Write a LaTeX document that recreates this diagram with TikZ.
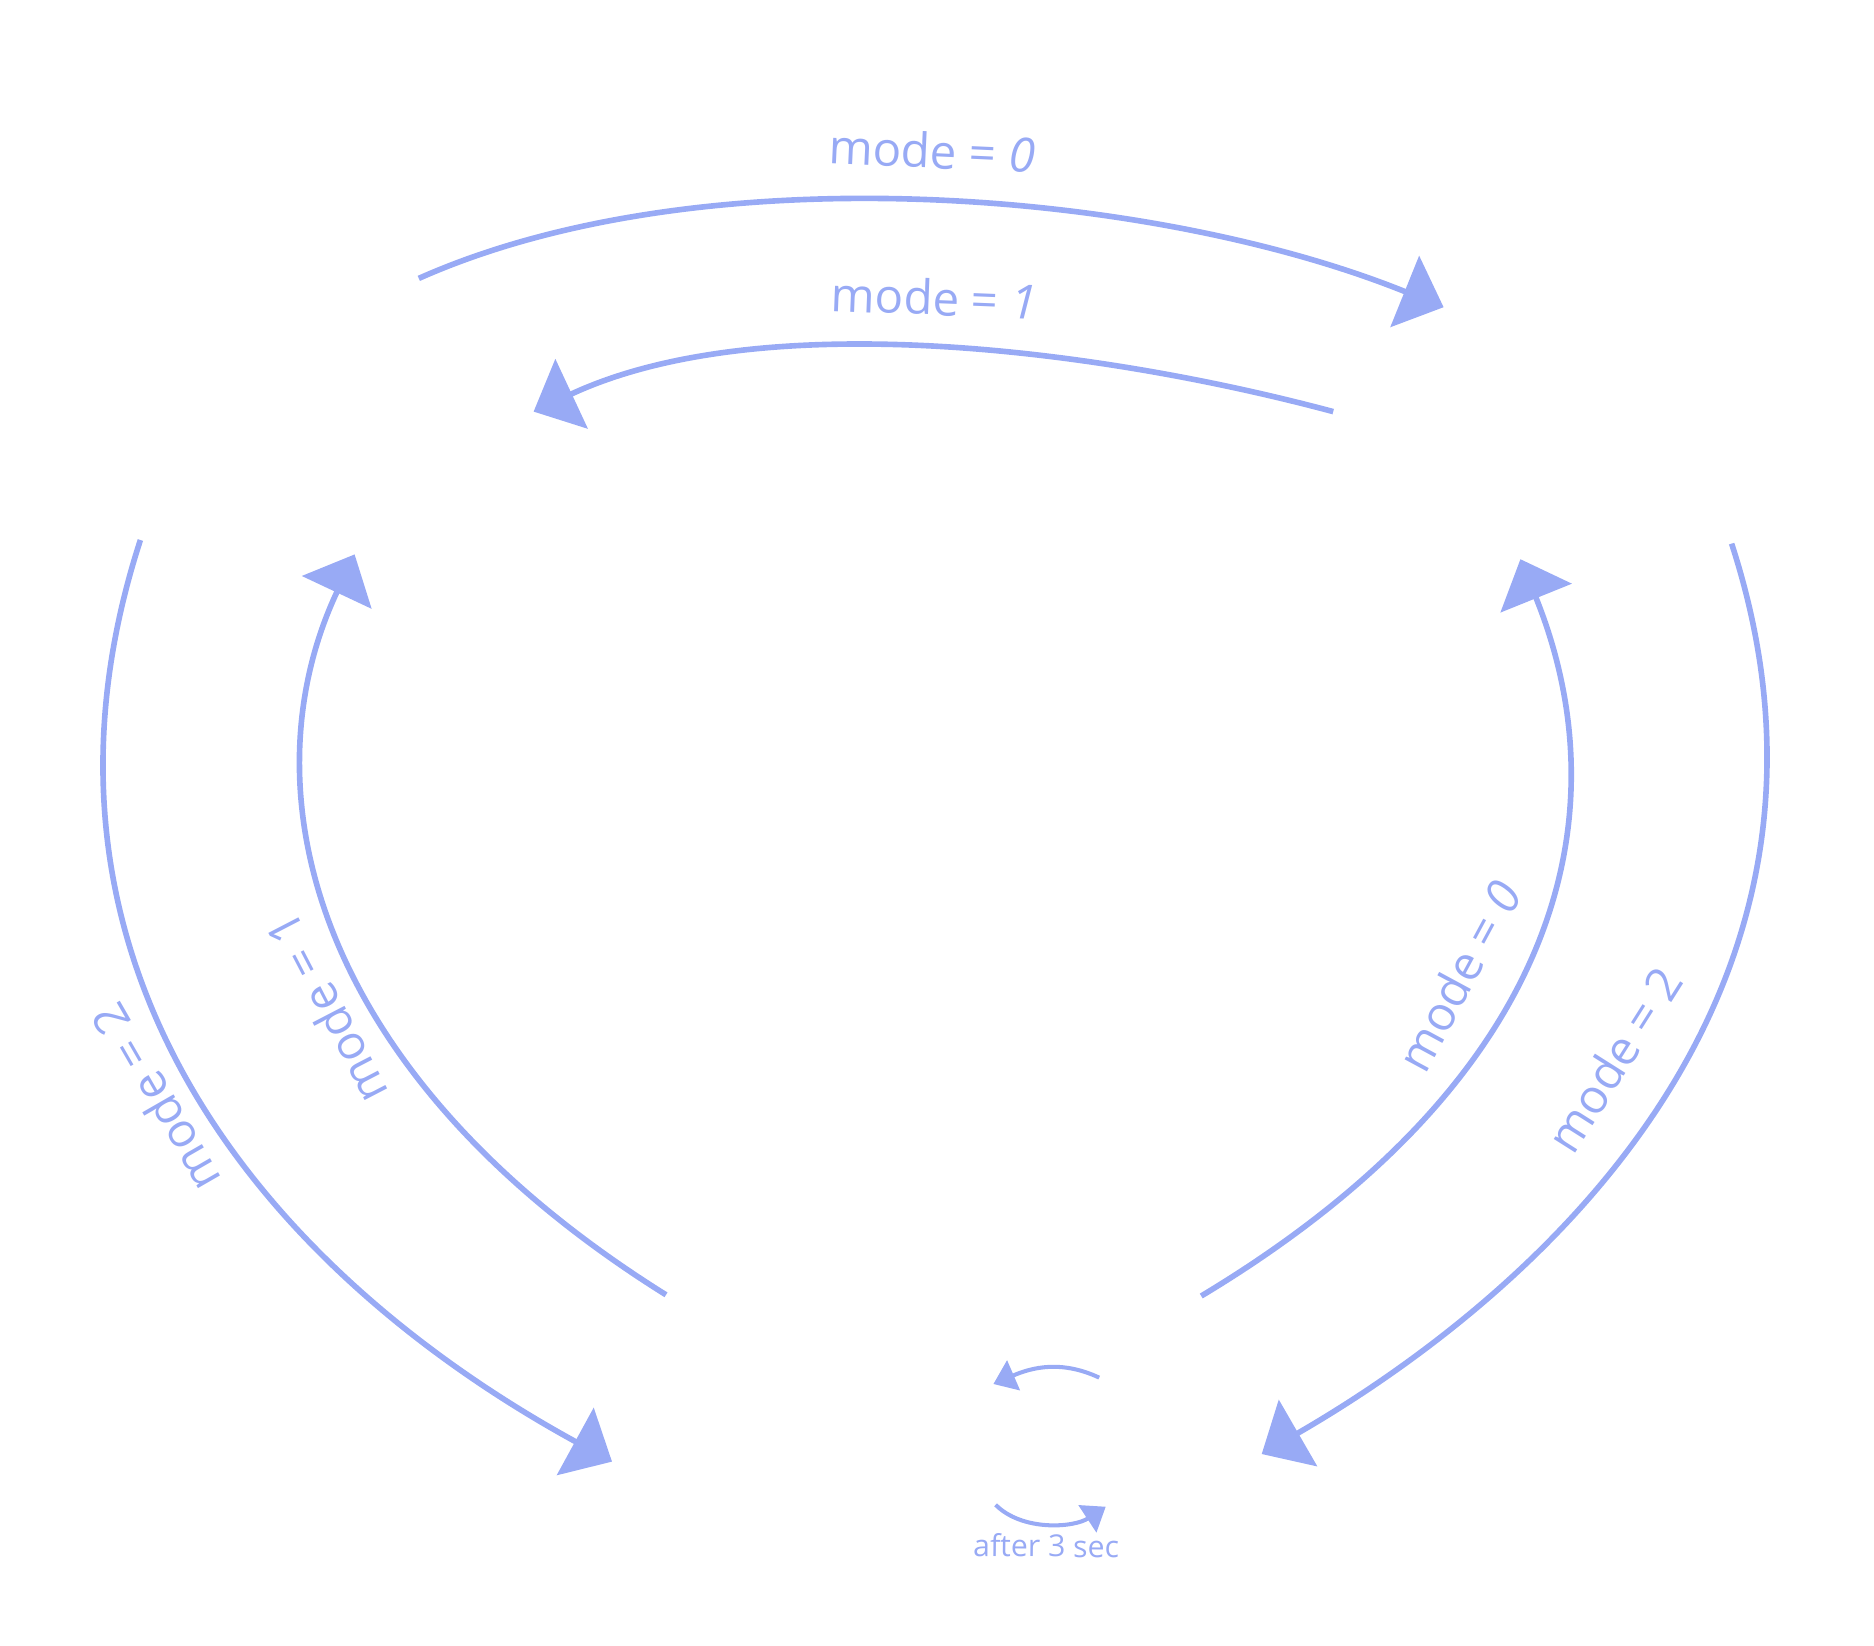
\documentclass[tikz,border=0pt]{standalone}
\usepackage{fontspec}
\setmainfont{Open Sans}
\usetikzlibrary{arrows.meta}
\definecolor{edgeblue}{RGB}{152,170,245}

\begin{document}
\begin{tikzpicture}[
    trans/.style={draw=edgeblue, line width=1.6pt, -{Triangle[length=0.42cm, width=0.76cm]}},
    wait/.style={draw=edgeblue, line width=1.15pt, -{Triangle[length=0.22cm, width=0.32cm]}},
    lbl/.style={text=edgeblue, font=\fontsize{13.5}{16}\selectfont, inner sep=0pt},
    small/.style={text=edgeblue, font=\fontsize{8.6}{10}\selectfont, inner sep=0pt}
  ]
  \useasboundingbox (0,0) rectangle (18.74,-16.45);
  % ports of state 1 (top left)
  \coordinate (s1-top) at (4.188,-2.784);
  \coordinate (s1-mid) at (5.336,-4.116);
  \coordinate (s1-out) at (1.404,-5.4);
  \coordinate (s1-in) at (3.546,-5.544);
  % ports of state 0 (top right)
  \coordinate (s0-top) at (14.436,-3.072);
  \coordinate (s0-mid) at (13.332,-4.116);
  \coordinate (s0-out) at (17.316,-5.436);
  \coordinate (s0-in) at (15.204,-5.592);
  % ports of state 2 (bottom)
  \coordinate (s2-left) at (6.12,-14.616);
  \coordinate (s2-lin) at (6.66,-12.948);
  \coordinate (s2-rin) at (12.012,-12.96);
  \coordinate (s2-right) at (12.617,-14.54);
  \coordinate (s2-ua) at (10.992,-13.776);
  \coordinate (s2-ub) at (9.934,-13.84);
  \coordinate (s2-la) at (9.956,-15.048);
  \coordinate (s2-lb) at (11.057,-15.067);
  % top pair
  \draw[trans] (s1-top) .. controls +(24:3.12) and +(158:3.12) .. (s0-top)
    node[lbl, pos=0.5, sloped, above=0.3cm] {mode = \textit{0}};
  \draw[trans] (s0-mid) .. controls +(165:2.4) and +(25:2.52) .. (s1-mid)
    node[lbl, pos=0.5, sloped, above=0.3cm] {mode = \textit{1}};
  % left pair
  \draw[trans] (s1-out) .. controls +(252:4.44) and +(151.3:3.96) .. (s2-left)
    node[lbl, pos=0.49, sloped, allow upside down, rotate=180, above=0.18cm] {mode = 2};
  \draw[trans] (s2-lin) .. controls +(148:4.2) and +(244.8:2.58) .. (s1-in)
    node[lbl, pos=0.42, sloped, allow upside down, above=0.2cm] {mode = 1};
  % right pair
  \draw[trans] (s2-rin) .. controls +(31:4.2) and +(-68:2.76) .. (s0-in)
    node[lbl, pos=0.42, sloped, above=0.34cm] {mode = \textit{0}};
  \draw[trans] (s0-out) .. controls +(-72:5.04) and +(30:2.64) .. (s2-right)
    node[lbl, pos=0.46, sloped, above=0.4cm] {mode = 2};
  % timer inside state 2
  \draw[wait] (s2-ua) .. controls +(155:0.42) and +(23.3:0.42) .. (s2-ub);
  \draw[wait] (s2-la) .. controls +(-45:0.38) and +(213.4:0.38) .. (s2-lb)
    node[small, pos=0.48, sloped, below=0.08cm] {after 3 sec};
\end{tikzpicture}
\end{document}
